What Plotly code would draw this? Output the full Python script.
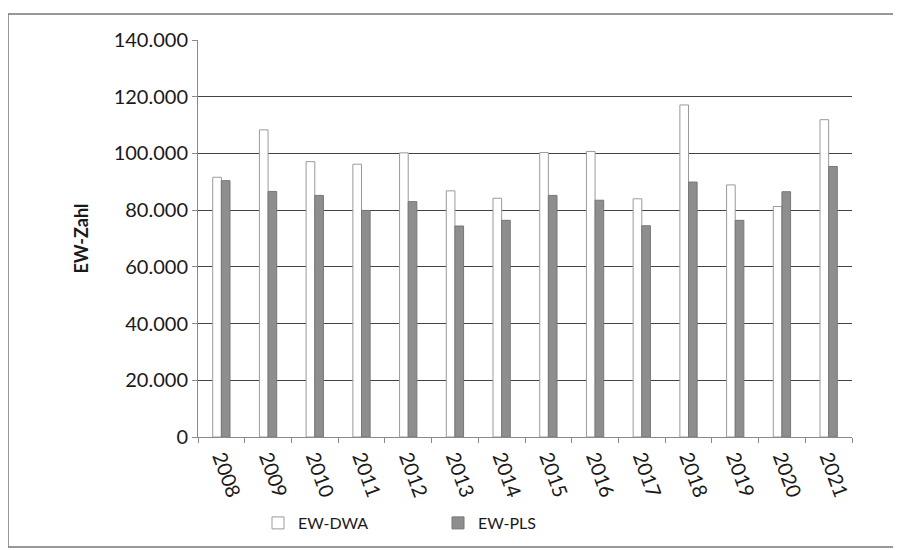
import plotly.graph_objects as go

years = ["2008", "2009", "2010", "2011", "2012", "2013", "2014",
         "2015", "2016", "2017", "2018", "2019", "2020", "2021"]
ew_dwa = [91600, 108300, 97100, 96200, 100200, 86800, 84200,
          100300, 100700, 84000, 117100, 88900, 81300, 111900]
ew_pls = [90400, 86600, 85200, 79900, 83000, 74400, 76400,
          85200, 83500, 74500, 89900, 76400, 86500, 95400]
y_ticks = [0, 20000, 40000, 60000, 80000, 100000, 120000, 140000]

FONT = "Lato, 'Open Sans', sans-serif"

# page body has ~8px default margin -> compensate
OFF = 8
W, H = 901 - OFF, 550 - OFF
L, T = 198 - OFF, 40 - OFF
PW, PH = 654, 397
R = W - L - PW
B = H - T - PH

fig = go.Figure()
fig.add_trace(go.Bar(
    x=years, y=ew_dwa, name="EW-DWA",
    marker=dict(color="#ffffff", line=dict(color="#9a9a9a", width=1)),
))
fig.add_trace(go.Bar(
    x=years, y=ew_pls, name="EW-PLS",
    marker=dict(color="#8e8e8e", line=dict(color="#777777", width=1)),
))

fig.update_layout(
    width=W, height=H,
    margin=dict(l=L, r=R, t=T, b=B, autoexpand=False),
    paper_bgcolor="white", plot_bgcolor="white",
    barmode="group", bargap=0.63, bargroupgap=0,
    separators=",.",
    font=dict(family=FONT, size=20, color="#1a1a1a"),
    showlegend=True,
    legend=dict(orientation="h", x=(250 - L) / PW, xanchor="left",
                y=-(523 - OFF - (T + PH)) / PH, yanchor="middle",
                font=dict(size=16), entrywidth=135, entrywidthmode="pixels",
                itemwidth=30, bgcolor="rgba(0,0,0,0)"),
    xaxis=dict(
        type="category", tickangle=70, showgrid=False, automargin=False,
        showline=True, linecolor="#8a8a8a", linewidth=1,
        ticks="outside", ticklen=5, tickcolor="#8a8a8a", tickson="boundaries",
        tickfont=dict(size=20),
    ),
    yaxis=dict(
        range=[0, 140000], tickvals=y_ticks, tickformat=",d", automargin=False,
        showgrid=True, gridcolor="#444444", gridwidth=1,
        showline=True, linecolor="#8a8a8a", linewidth=1,
        ticks="outside", ticklen=5, tickcolor="#8a8a8a",
        tickfont=dict(size=20), zeroline=False,
        title=dict(text="<b>EW-Zahl</b>", font=dict(size=18), standoff=20),
    ),
    shapes=[
        dict(type="rect", xref="paper", yref="paper",
             x0=(0 - L) / PW, x1=(W + 10 - L) / PW,
             y0=1 - (547 - OFF - T) / PH, y1=1 + (T - (14 - OFF)) / PH,
             line=dict(color="#777777", width=1.5), fillcolor="rgba(0,0,0,0)",
             layer="below"),
    ],
)

fig.write_html("out.html")
